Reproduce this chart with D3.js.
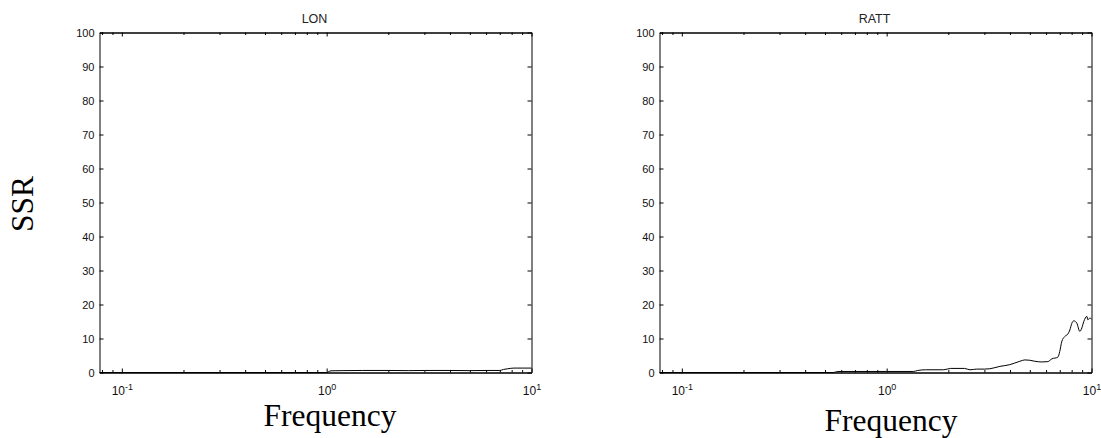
<!DOCTYPE html>
<html>
<head>
<meta charset="utf-8">
<script src="https://cdn.jsdelivr.net/npm/d3@7"></script>
<style>
  html, body { margin: 0; padding: 0; background: #fff; }
  svg { display: block; }
  .tick text { font-family: "Liberation Sans", Arial, sans-serif; font-size: 11px; fill: #111; }
</style>
</head>
<body>
<svg id="chart" width="1101" height="438"></svg>
<script>
// Panel titles and axis labels
const panelTitles = ["LON", "RATT"];
const yLabel = "SSR";
const xLabel = "Frequency";

// Axis limits and tick values
const freqDomain = [0.0778, 10];
const ssrDomain = [0, 100];
const yTickValues = [0, 10, 20, 30, 40, 50, 60, 70, 80, 90, 100];
const xMajorTicks = [0.1, 1, 10];

// LON: SSR against frequency
const freqLON = [0.0778, 0.3, 0.6, 1.0, 1.05, 1.2, 1.5, 2.0, 2.5, 3.0, 4.0, 5.0, 6.0, 7.0, 7.3, 7.66, 8.2, 9.0, 10];
const ssrLON  = [0, 0, 0, 0, 0.5, 0.55, 0.6, 0.6, 0.55, 0.6, 0.6, 0.55, 0.6, 0.6, 0.9, 1.1, 1.3, 1.3, 1.3];

// RATT: SSR against frequency
const freqRATT = [0.0778, 0.3, 0.55, 0.578, 1.0, 1.35, 1.42, 1.55, 1.9, 2.05, 2.4, 2.55, 2.75, 3.0, 3.19, 3.57, 3.99, 4.47, 4.73, 5.0, 5.29, 5.72, 6.12, 6.4, 6.85, 7.0, 7.16, 7.41, 7.66, 7.84, 8.02, 8.2, 8.48, 8.77, 8.97, 9.17, 9.49, 9.6, 9.81, 10];
const ssrRATT  = [0, 0, 0, 0.3, 0.3, 0.3, 0.6, 0.8, 0.8, 1.2, 1.2, 0.8, 1.0, 1.0, 1.1, 1.8, 2.3, 3.3, 3.7, 3.6, 3.3, 3.1, 3.2, 4.0, 4.5, 6.2, 9.1, 10.6, 11.3, 12.5, 14.5, 15.2, 14.5, 12.1, 13.1, 15.0, 16.5, 15.5, 16.0, 15.7];

const svg = d3.select("#chart");

const panels = [
  { title: panelTitles[0], freq: freqLON,  ssr: ssrLON,  left: 99.5,  right: 531.5, xlabX: 330, xlabY: 426 },
  { title: panelTitles[1], freq: freqRATT, ssr: ssrRATT, left: 659.5, right: 1091.5, xlabX: 891, xlabY: 431 }
];
const plotTop = 32.5, plotBottom = 372.5;

// minor log ticks (2..9 per decade) inside the domain
const xMinorTicks = [];
for (let e = -2; e <= 0; e++) {
  for (let k = 2; k <= 9; k++) {
    const v = k * Math.pow(10, e);
    if (v >= freqDomain[0] && v <= freqDomain[1]) xMinorTicks.push(v);
  }
}

// power-of-ten labels: "10" with a raised exponent
function supLabels(sel) {
  sel.selectAll(".tick text").each(function(d) {
    const t = d3.select(this);
    t.text(null).attr("y", 22.5).attr("dy", null).style("font-size", "12px");
    t.append("tspan").text("10");
    t.append("tspan").attr("dy", "-0.55em").style("font-size", "9px").text(Math.round(Math.log10(d)));
  });
}

panels.forEach(p => {
  const x = d3.scaleLog().domain(freqDomain).range([p.left, p.right]);
  const y = d3.scaleLinear().domain(ssrDomain).range([plotBottom, plotTop]);
  const g = svg.append("g");

  // bottom axis: major with labels, minor short ticks
  const gb = g.append("g").attr("transform", `translate(0,${plotBottom})`)
    .call(d3.axisBottom(x).tickValues(xMajorTicks).tickSizeInner(-4).tickSizeOuter(0).tickFormat(() => ""));
  supLabels(gb);
  g.append("g").attr("transform", `translate(0,${plotBottom})`)
    .call(d3.axisBottom(x).tickValues(xMinorTicks).tickSizeInner(-2.5).tickSizeOuter(0).tickFormat(() => ""));

  // top axis, ticks inward
  g.append("g").attr("transform", `translate(0,${plotTop})`)
    .call(d3.axisTop(x).tickValues(xMajorTicks).tickSizeInner(-4).tickSizeOuter(0).tickFormat(() => ""));
  g.append("g").attr("transform", `translate(0,${plotTop})`)
    .call(d3.axisTop(x).tickValues(xMinorTicks).tickSizeInner(-2.5).tickSizeOuter(0).tickFormat(() => ""));

  // left axis with labels, ticks inward
  g.append("g").attr("transform", `translate(${p.left},0)`)
    .call(d3.axisLeft(y).tickValues(yTickValues).tickSizeInner(-4).tickSizeOuter(0).tickPadding(5).tickFormat(d3.format("d")));
  // right axis, ticks inward
  g.append("g").attr("transform", `translate(${p.right},0)`)
    .call(d3.axisRight(y).tickValues(yTickValues).tickSizeInner(-4).tickSizeOuter(0).tickFormat(() => ""));

  g.selectAll(".domain").attr("stroke", "#000").attr("stroke-width", 1);
  g.selectAll(".tick line").attr("stroke", "#000");

  // curve
  const pts = p.freq.map((f, i) => [f, p.ssr[i]]);
  g.append("path")
    .datum(pts)
    .attr("fill", "none")
    .attr("stroke", "#000")
    .attr("stroke-width", 1)
    .attr("d", d3.line().x(d => x(d[0])).y(d => y(d[1])).curve(d3.curveMonotoneX));

  // title
  g.append("text")
    .attr("x", (p.left + p.right) / 2 - 1)
    .attr("y", 23)
    .attr("text-anchor", "middle")
    .attr("font-family", "Liberation Sans, Arial, sans-serif")
    .attr("font-size", "12.5px")
    .attr("fill", "#222")
    .text(p.title);

  // x label
  g.append("text")
    .attr("x", p.xlabX)
    .attr("y", p.xlabY)
    .attr("text-anchor", "middle")
    .attr("font-family", "Liberation Serif, Times New Roman, serif")
    .attr("font-size", "31.5px")
    .attr("fill", "#000")
    .text(xLabel);
});

// y label
svg.append("text")
  .attr("transform", "translate(33,204) rotate(-90)")
  .attr("text-anchor", "middle")
  .attr("font-family", "Liberation Serif, Times New Roman, serif")
  .attr("font-size", "31.5px")
  .attr("fill", "#000")
  .text(yLabel);
</script>
</body>
</html>
